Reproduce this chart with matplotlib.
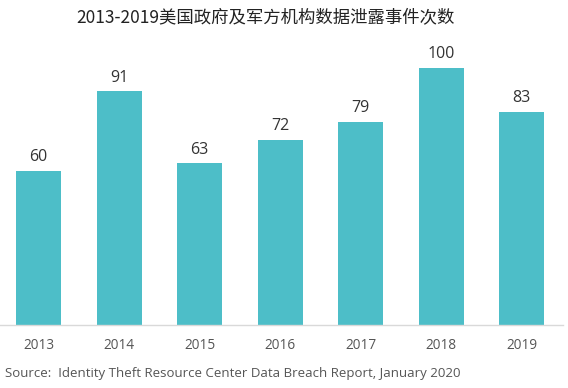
import matplotlib
matplotlib.use('Agg')
import matplotlib.pyplot as plt
import numpy as np

# 数据
years = ['2013', '2014', '2015', '2016', '2017', '2018', '2019']
counts = [60, 91, 63, 72, 79, 100, 83]
title = '2013-2019美国政府及军方机构数据泄露事件次数'
source = 'Source:  Identity Theft Resource Center Data Breach Report, January 2020'

plt.rcParams['font.family'] = ['Open Sans', 'Noto Sans CJK SC', 'DejaVu Sans']

fig = plt.figure(figsize=(5.68, 3.88), dpi=100)
ax = fig.add_axes([0.0, 0.162, 0.991, 0.78])

x = np.arange(len(years))
bars = ax.bar(x, counts, width=0.56, color='#4dbec8')

for xi, v in zip(x, counts):
    ax.text(xi, v + 2.2, str(v), ha='center', va='bottom', fontsize=11.5, color='#333333')

ax.set_xlim(-0.48, 6.51)
# 约2.57像素/单位
ax.set_ylim(0, 0.78 * 388 / 2.57)
ax.set_xticks(x)
ax.set_xticklabels(years, fontsize=9.8, color='#555555')
ax.tick_params(axis='x', length=0, pad=9)
ax.set_yticks([])
for s in ['top', 'right', 'left']:
    ax.spines[s].set_visible(False)
ax.spines['bottom'].set_color('#d9d9d9')
ax.spines['bottom'].set_linewidth(1)

fig.text(0.467, 0.955, title, ha='center', va='center', fontsize=12.5,
         color='#222222', family=['Noto Sans CJK SC', 'DejaVu Sans'])
fig.text(0.008, 0.038, source, ha='left', va='center', fontsize=9.5, color='#555555')

fig.savefig('out.png', dpi=100)
